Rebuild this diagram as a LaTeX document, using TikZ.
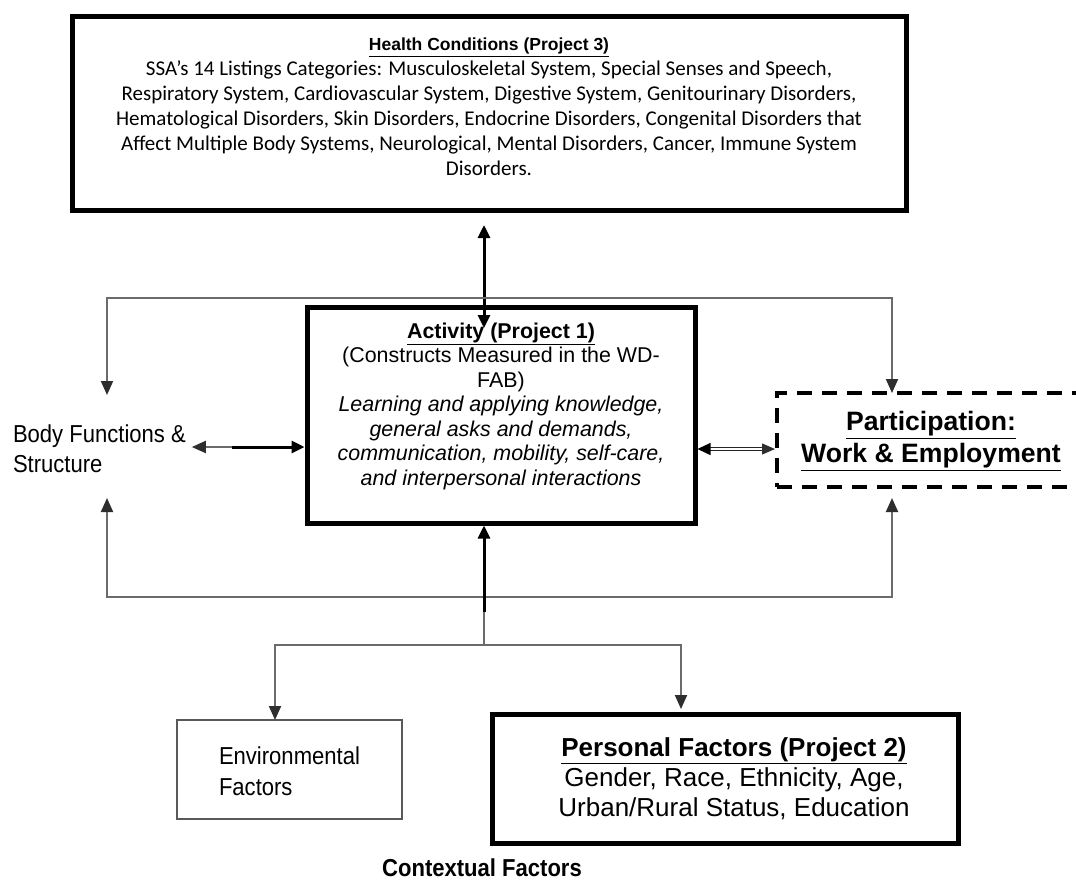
\documentclass[tikz,border=0pt]{standalone}
\usepackage{fontspec}
\setmainfont{Liberation Sans}
\newfontfamily\bodyfont{Carlito}
\newfontfamily\narrowfont[FakeStretch=0.9]{Liberation Sans}
\usetikzlibrary{arrows.meta}
\definecolor{linegray}{gray}{0.42}
\definecolor{tipgray}{gray}{0.18}
\definecolor{framegray}{gray}{0.35}

\begin{document}
\begin{tikzpicture}[x=1pt,y=-1pt,
  every node/.style={outer sep=0pt, inner sep=0pt},
  heavybox/.style={draw=black, line width=5pt, fill=white},
  thinbox/.style={draw=framegray, line width=1.6pt, fill=white},
  dashbox/.style={draw=black, line width=4pt, dash pattern=on 15pt off 10pt},
  blk/.style={draw=black, line width=3pt},
  gry/.style={draw=linegray, line width=2pt},
  blktip/.tip={Triangle[length=13pt,width=12pt,color=black]},
  grytip/.tip={Triangle[length=14pt,width=12pt,color=tipgray]},
  dblarrow/.style={draw=black!85, line width=1.3pt, double=white, double distance=2pt},
]
\clip (0,0) rectangle (1076,881);
\fill[white] (0,0) rectangle (1076,881);

% boxes
\node[heavybox, minimum width=834pt, minimum height=194pt] (health) at (489,113) {};
\node[heavybox, minimum width=388pt, minimum height=216pt] (act) at (501,415) {};
\node[dashbox, minimum width=308pt, minimum height=94pt] (part) at (931,440) {};
\node[thinbox, minimum width=225pt, minimum height=99pt] (env) at (289.5,769.5) {};
\node[heavybox, minimum width=466pt, minimum height=129pt] (pers) at (725,778.5) {};

% texts
\node[font=\fontsize{21}{25}\selectfont\bodyfont, align=center] (healthtext) at (489,107)
  {{\rmfamily\bfseries\fontsize{17.5}{25}\selectfont\underline{Health Conditions (Project 3)}}\\
   SSA’s 14 Listings Categories: Musculoskeletal System, Special Senses and Speech,\\
   Respiratory System, Cardiovascular System, Digestive System, Genitourinary Disorders,\\
   Hematological Disorders, Skin Disorders, Endocrine Disorders, Congenital Disorders that\\
   Affect Multiple Body Systems, Neurological, Mental Disorders, Cancer, Immune System\\
   Disorders.};
\node[font=\fontsize{21.4}{24.5}\selectfont, align=center] (acttext) at (501,406)
  {\textbf{\underline{Activity (Project 1)}}\\
   (Constructs Measured in the WD-\\
   FAB)\\
   \textit{Learning and applying knowledge,}\\
   \textit{general asks and demands,}\\
   \textit{communication, mobility, self-care,}\\
   \textit{and interpersonal interactions}};
\node[font=\fontsize{26.6}{32}\selectfont\bfseries, align=center] (parttext) at (931,441)
  {\underline{Participation:}\\ \underline{Work \& Employment}};
\node[font=\fontsize{24.5}{30}\selectfont\narrowfont, align=left, anchor=west] (body) at (13,449)
  {Body Functions \&\\ Structure};
\node[font=\fontsize{24.5}{31}\selectfont\narrowfont, align=left, anchor=west] (envtext) at (219,771)
  {Environmental\\ Factors};
\node[font=\fontsize{26}{30}\selectfont, align=center] (perstext) at (734,779)
  {\textbf{\underline{Personal Factors (Project 2)}}\\
   Gender, Race, Ethnicity, Age,\\
   Urban/Rural Status, Education};
\node[font=\fontsize{24.5}{30}\selectfont\narrowfont\bfseries] (context) at (482,868) {Contextual Factors};

% loop corners and free ends
\coordinate (tl) at (107,298);
\coordinate (tr) at (892,298);
\coordinate (bl) at (107,597);
\coordinate (br) at (892,597);
\coordinate (bodytop) at (107,395);
\coordinate (bodybot) at (107,498);
\coordinate (bodyjoint) at (232,447);
\coordinate (midline) at (740,449);
\coordinate (split) at (484,612);
\coordinate (fork) at (484,645);

% health <-> activity
\draw[blk, blktip-blktip] ([xshift=-5pt,yshift=-15pt]health.south) -- ([xshift=-17pt,yshift=-21pt]act.north);

% upper and lower feedback loops
\draw[gry, grytip-grytip] (bodytop) -- (tl) -- (tr) -- (part.north -| tr);
\draw[gry, grytip-grytip] (bodybot) -- (bl) -- (br) -- ([yshift=-11pt]part.south -| br);

% body functions <-> activity
\draw[gry, -grytip] (bodyjoint) -- ([xshift=6pt]body.east |- bodyjoint);
\draw[blk, -blktip] (bodyjoint) -- ([xshift=-2.5pt]act.west |- bodyjoint);

% activity <-> participation
\draw[dblarrow, {Triangle[length=13pt,width=12pt,color=black]}-{Triangle[length=13pt,width=11pt,color=tipgray]}]
  ([xshift=2.5pt]act.east |- midline) -- ([xshift=-2pt]part.west |- midline);

% contextual factors feeding activity
\draw[blk, -blktip] (split) -- ([yshift=-2.5pt]act.south -| split);
\draw[gry] (split) -- (fork);
\draw[gry, -grytip] (fork) -| ([xshift=-14.5pt]env.north);
\draw[gry, -grytip] (fork) -| ([yshift=5pt]pers.north -| 681,0);
\end{tikzpicture}
\end{document}
